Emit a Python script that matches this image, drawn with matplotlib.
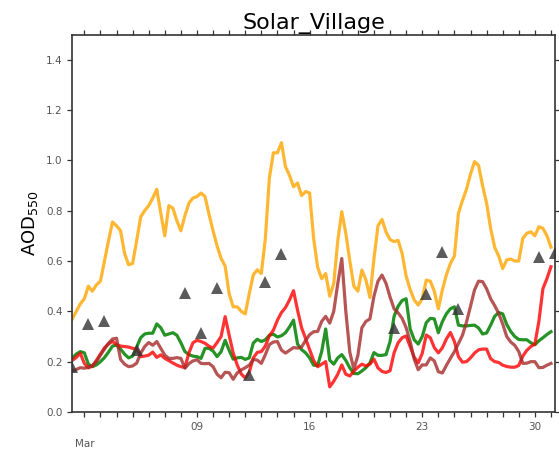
import numpy as np
import pandas as pd
import matplotlib
matplotlib.use('Agg')
import matplotlib.pyplot as plt
import matplotlib.dates as mdates
from matplotlib.ticker import FuncFormatter

# 6-hourly model AOD at Solar_Village, March
times = pd.date_range('2015-03-01 06:00', periods=120, freq='6h')

aod_orange = [
    0.37, 0.40, 0.43, 0.45, 0.50, 0.48, 0.505, 0.52, 0.60, 0.68, 0.755, 0.74, 0.72, 0.63, 0.585,
    0.59, 0.68, 0.775, 0.80, 0.82, 0.85, 0.885, 0.79, 0.70, 0.82, 0.81, 0.76, 0.72, 0.78, 0.83,
    0.85, 0.856, 0.87, 0.856, 0.785, 0.72, 0.66, 0.61, 0.58, 0.47, 0.418, 0.418, 0.40,
    0.39, 0.47, 0.545, 0.565, 0.55, 0.69, 0.93, 1.03, 1.03, 1.07, 0.975, 0.94, 0.895, 0.91,
    0.86, 0.876, 0.87, 0.69, 0.575, 0.53, 0.55, 0.46, 0.51, 0.68, 0.796, 0.71, 0.60, 0.50,
    0.48, 0.564, 0.525, 0.455, 0.61, 0.74, 0.765, 0.715, 0.685, 0.677, 0.682, 0.63, 0.54,
    0.487, 0.445, 0.425, 0.45, 0.524, 0.52, 0.48, 0.41, 0.485, 0.545, 0.59, 0.62, 0.79, 0.84,
    0.885, 0.945, 0.995, 0.98, 0.90, 0.83, 0.73, 0.655, 0.62, 0.57, 0.604, 0.608, 0.60, 0.60,
    0.69, 0.71, 0.716, 0.70, 0.736, 0.73, 0.70, 0.655,
]
aod_green = [
    0.215, 0.23, 0.24, 0.235, 0.19, 0.18, 0.187, 0.20, 0.216, 0.238, 0.262, 0.266, 0.25, 0.23,
    0.215, 0.222, 0.258, 0.295, 0.31, 0.313, 0.313, 0.35, 0.335, 0.305, 0.31, 0.315, 0.305,
    0.275, 0.24, 0.228, 0.222, 0.22, 0.213, 0.253, 0.253, 0.242, 0.22, 0.24, 0.285, 0.245,
    0.21, 0.215, 0.217,
    0.209, 0.215, 0.274, 0.289, 0.28, 0.287, 0.305, 0.309, 0.298, 0.303, 0.315, 0.338, 0.365,
    0.27, 0.248, 0.235, 0.215, 0.186, 0.185, 0.24, 0.33, 0.206, 0.19, 0.215, 0.228, 0.205,
    0.175, 0.153, 0.152, 0.163, 0.176, 0.195, 0.236, 0.225, 0.225, 0.228, 0.28, 0.38, 0.42,
    0.443, 0.45,
    0.33, 0.287, 0.27, 0.30, 0.355, 0.372, 0.37, 0.315, 0.359, 0.39, 0.41, 0.418, 0.345, 0.342,
    0.342, 0.344, 0.345, 0.334, 0.31, 0.314, 0.345, 0.38, 0.395, 0.39, 0.348, 0.32, 0.30,
    0.288, 0.287, 0.287, 0.275, 0.267, 0.283, 0.295, 0.308, 0.319,
]
aod_red = [
    0.205, 0.217, 0.233, 0.193, 0.175, 0.183, 0.205, 0.23, 0.255, 0.27, 0.281, 0.268, 0.262,
    0.26, 0.258, 0.253, 0.25, 0.22, 0.222, 0.226, 0.238, 0.217, 0.227, 0.213, 0.204, 0.195,
    0.186, 0.18, 0.177, 0.235, 0.275, 0.285, 0.28, 0.273, 0.261, 0.254, 0.276, 0.30, 0.379,
    0.305, 0.235, 0.187, 0.151,
    0.135, 0.158, 0.215, 0.237, 0.24, 0.262, 0.303, 0.325, 0.365, 0.395, 0.415, 0.445, 0.482,
    0.405, 0.335, 0.292, 0.248, 0.205, 0.18, 0.19, 0.20, 0.10, 0.122, 0.15, 0.187, 0.15,
    0.143, 0.162, 0.178, 0.19, 0.183, 0.19, 0.21, 0.175, 0.161, 0.157, 0.164, 0.235, 0.275,
    0.295, 0.302,
    0.26, 0.218, 0.195, 0.233, 0.306, 0.295, 0.256, 0.235, 0.255, 0.29, 0.316, 0.28, 0.22,
    0.198, 0.20, 0.215, 0.234, 0.247, 0.25, 0.25, 0.212, 0.20, 0.197, 0.186, 0.181, 0.178,
    0.178, 0.185, 0.222, 0.245, 0.26, 0.27, 0.36, 0.49, 0.53, 0.577,
]
aod_brown = [
    0.163, 0.169, 0.176, 0.174, 0.178, 0.185, 0.20, 0.226, 0.25, 0.273, 0.29, 0.293, 0.209,
    0.19, 0.18, 0.183, 0.194, 0.233, 0.26, 0.276, 0.265, 0.28, 0.253, 0.226, 0.213, 0.213,
    0.216, 0.213, 0.174, 0.192, 0.203, 0.208, 0.193, 0.192, 0.193, 0.18, 0.15, 0.136, 0.158,
    0.156, 0.13, 0.155, 0.167,
    0.176, 0.186, 0.209, 0.206, 0.193, 0.228, 0.268, 0.278, 0.28, 0.246, 0.234, 0.245, 0.256,
    0.254, 0.258, 0.284, 0.307, 0.319, 0.32, 0.36, 0.38, 0.353, 0.40, 0.51, 0.61, 0.40, 0.237,
    0.17, 0.225, 0.335, 0.36, 0.37, 0.46, 0.52, 0.544, 0.511, 0.457, 0.41, 0.394, 0.372, 0.335,
    0.28, 0.21, 0.168, 0.187, 0.187, 0.215, 0.203, 0.16, 0.155, 0.185, 0.213, 0.24, 0.272,
    0.305, 0.357, 0.42, 0.485, 0.52, 0.518, 0.49, 0.45, 0.423, 0.392, 0.35, 0.30, 0.278,
    0.265, 0.24, 0.193, 0.194, 0.20, 0.20, 0.176, 0.177, 0.186, 0.193,
]

# daily AERONET observations (06 UTC)
obs_days = [1, 2, 3, 5, 8, 9, 10, 12, 13, 14, 21, 23, 24, 25, 30, 31]
obs_aod = [0.18, 0.35, 0.36, 0.245, 0.474, 0.315, 0.491, 0.147, 0.518, 0.628,
           0.332, 0.469, 0.637, 0.408, 0.615, 0.63]
obs_times = [pd.Timestamp(2015, 3, d, 6) for d in obs_days]

fig = plt.figure(figsize=(5.59, 4.51), dpi=100)
ax = fig.add_axes([0.1293, 0.0865, 0.9928 - 0.1293, 0.9235 - 0.0865])

lw = 2.3
ax.plot(times, aod_orange, color='orange', lw=lw, alpha=0.8)
ax.plot(times, aod_green, color='green', lw=lw, alpha=0.85)
ax.plot(times, aod_red, color='red', lw=lw, alpha=0.8)
ax.plot(times, aod_brown, color='brown', lw=lw, alpha=0.8)
ax.plot(obs_times, obs_aod, ls='none', marker='^', ms=8, color='#333333', alpha=0.8,
        markeredgewidth=0, zorder=5)

ax.set_xlim(pd.Timestamp('2015-03-01 06:00'), pd.Timestamp('2015-03-31 06:00'))
ax.set_ylim(0, 1.5)
ax.set_yticks(np.arange(0, 1.41, 0.2))
ax.yaxis.set_major_formatter(FuncFormatter(lambda v, p: '%.1f' % v))

ax.xaxis.set_major_locator(mdates.DayLocator(bymonthday=[9, 16, 23, 30]))
ax.xaxis.set_major_formatter(mdates.DateFormatter('%d'))
ax.xaxis.set_minor_locator(mdates.DayLocator())

# month name under the first full day
ax.annotate('Mar', xy=(pd.Timestamp('2015-03-02'), 0), xycoords=('data', 'axes fraction'),
            xytext=(0, -25), textcoords='offset points', ha='center', va='baseline',
            fontsize=7.5, color='#555555', annotation_clip=False)

ax.tick_params(which='both', direction='out', length=3.5, width=0.9, color='#333333',
               labelcolor='#555555', labelsize=7.5, top=True, right=True)
for s in ax.spines.values():
    s.set_color('#333333')
    s.set_linewidth(1.2)

ax.set_ylabel('AOD$_{550}$', fontsize=13)
ax.set_title('Solar_Village', fontsize=16, pad=4)

fig.savefig('out.png', dpi=100, facecolor='white')
